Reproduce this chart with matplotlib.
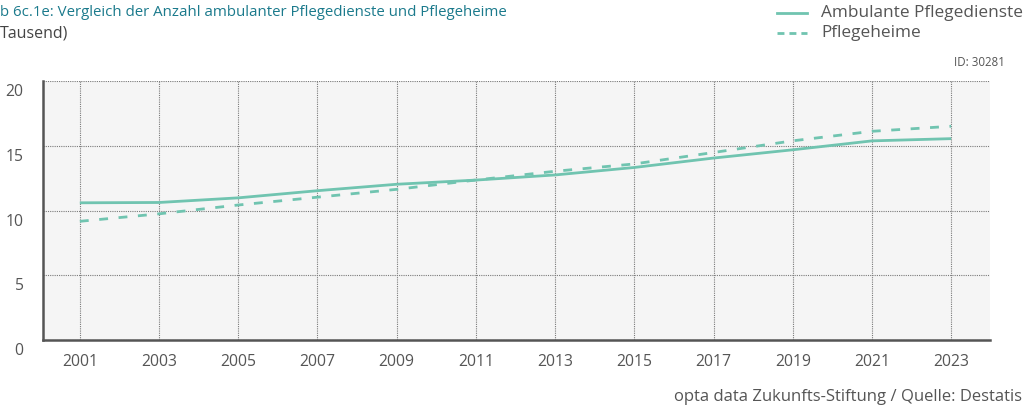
import matplotlib
matplotlib.use("Agg")
import matplotlib.pyplot as plt
from matplotlib.lines import Line2D
import matplotlib.transforms as mtransforms

years = [2001, 2003, 2005, 2007, 2009, 2011, 2013, 2015, 2017, 2019, 2021, 2023]
ambulant = [10.594, 10.619, 10.977, 11.529, 12.026, 12.349, 12.745, 13.323, 14.050, 14.688, 15.376, 15.549]
heime = [9.165, 9.743, 10.424, 11.029, 11.634, 12.354, 13.030, 13.596, 14.480, 15.380, 16.115, 16.505]
yticks = [0, 5, 10, 15, 20]
xtick_labels = [str(y) for y in years]

title = "b 6c.1e: Vergleich der Anzahl ambulanter Pflegedienste und Pflegeheime"
subtitle = "Tausend)"
legend_labels = ["Ambulante Pflegedienste", "Pflegeheime"]
id_text = "ID: 30281"
footer = "opta data Zukunfts-Stiftung / Quelle: Destatis"

plt.rcParams['font.family'] = ['Open Sans', 'DejaVu Sans']

W, H = 1031, 407
fig = plt.figure(figsize=(W / 100, H / 100), dpi=100)
fig.patch.set_facecolor('white')

line_color = '#70c4b0'
title_color = '#1b7a8c'
text_gray = '#555555'

ax = fig.add_axes([43 / W, (H - 340) / H, (990 - 43) / W, (340 - 81) / H])
ax.set_facecolor('#f5f5f5')

lw = 2.0
ax.plot(years, ambulant, color=line_color, lw=lw, solid_capstyle='butt', zorder=3)
ax.plot(years, heime, color=line_color, lw=lw, dashes=(3.2, 3.8), zorder=3)

ax.set_xlim(2000.07, 2023.98)
ax.set_ylim(0, 20)
ax.set_xticks(years)
ax.set_xticklabels(xtick_labels)
ax.set_yticks(yticks)
ax.set_yticklabels([str(v) for v in yticks])

ax.grid(True, color='#7a7a7a', linestyle=(0, (1, 1)), linewidth=0.8)
ax.set_axisbelow(True)
for s in ['top', 'right']:
    ax.spines[s].set_visible(False)
for s in ['left', 'bottom']:
    ax.spines[s].set_color('#555555')
    ax.spines[s].set_linewidth(1.8)

ax.tick_params(axis='both', length=0, labelsize=11.3, labelcolor=text_gray)
ax.tick_params(axis='x', pad=10)
ax.tick_params(axis='y', pad=14)
offset = mtransforms.ScaledTranslation(0, -9 / 100, fig.dpi_scale_trans)
for lab in ax.get_yticklabels():
    lab.set_transform(lab.get_transform() + offset)

# Title and subtitle
fig.text(0, 1 - 13 / H, title, color=title_color, fontsize=10.8, va='center', ha='left')
fig.text(0, 1 - 33 / H, subtitle, color='#444444', fontsize=11.5, va='center', ha='left')

# Legend
fig.add_artist(Line2D([777 / W, 807 / W], [1 - 13 / H, 1 - 13 / H], color=line_color, lw=lw,
                      transform=fig.transFigure))
fig.add_artist(Line2D([777 / W, 807 / W], [1 - 33 / H, 1 - 33 / H], color=line_color, lw=lw,
                      dashes=(2.5, 1.8), transform=fig.transFigure))
fig.text(821 / W, 1 - 13 / H, legend_labels[0], color=text_gray, fontsize=12.4, va='center', ha='left')
fig.text(821 / W, 1 - 33 / H, legend_labels[1], color=text_gray, fontsize=12.4, va='center', ha='left')

fig.text(1005 / W, 1 - 62 / H, id_text, color=text_gray, fontsize=8.3, va='center', ha='right')
fig.text(1022 / W, 1 - 397 / H, footer, color=text_gray, fontsize=12, va='center', ha='right')

fig.savefig('out.png', dpi=100, facecolor='white')
